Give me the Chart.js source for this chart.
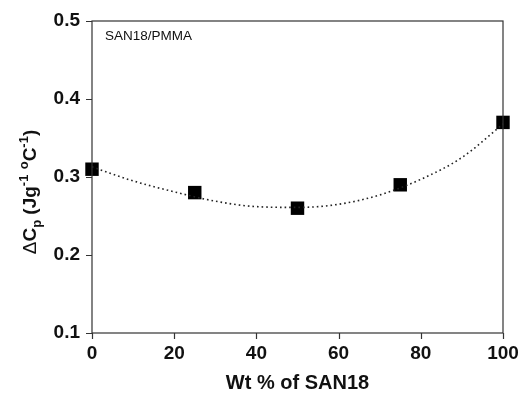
<!DOCTYPE html>
<html>
<head>
<meta charset="utf-8">
<script src="https://cdn.jsdelivr.net/npm/chart.js@4"></script>
<style>
  html, body { margin: 0; padding: 0; background: #fff; }
  #wrap { width: 520px; height: 395px; }
</style>
</head>
<body>
<div id="wrap"><canvas id="cpChart"></canvas></div>
<script>
(function() {
    'use strict';

    // measured points
    const wtPercent = [0, 25, 50, 75, 100];
    const deltaCp = [0.31, 0.28, 0.26, 0.29, 0.37];

    // dotted fit curve
    const fitX = [0, 10, 20, 30, 40, 50, 60, 70, 80, 90, 100];
    const fitY = [0.313, 0.295, 0.281, 0.269, 0.262, 0.261, 0.265, 0.277, 0.297, 0.325, 0.368];

    const xTicks = [0, 20, 40, 60, 80, 100];
    const yTicks = [0.1, 0.2, 0.3, 0.4, 0.5];

    const FONT = '"Liberation Sans", Arial, sans-serif';
    const INK = '#111';
    const TICK = 6;

    // box around the plot, outward tick marks, inner label
    const frameBox = {
        id: 'frameBox',
        afterDraw(chart) {
            const a = chart.chartArea;
            const ctx = chart.ctx;
            const xs = chart.scales.x, ys = chart.scales.y;
            ctx.save();
            ctx.strokeStyle = '#333';
            ctx.lineWidth = 1.2;
            ctx.strokeRect(a.left, a.top, a.right - a.left, a.bottom - a.top);
            ctx.beginPath();
            xTicks.forEach(function(v) {
                const px = Math.round(xs.getPixelForValue(v)) + 0.5;
                ctx.moveTo(px, a.bottom);
                ctx.lineTo(px, a.bottom + TICK);
            });
            yTicks.forEach(function(v) {
                const py = Math.round(ys.getPixelForValue(v)) + 0.5;
                ctx.moveTo(a.left, py);
                ctx.lineTo(a.left - TICK, py);
            });
            ctx.stroke();
            ctx.fillStyle = INK;
            ctx.font = '13.5px ' + FONT;
            ctx.textBaseline = 'middle';
            ctx.fillText('SAN18/PMMA', a.left + 13, a.top + 15);
            ctx.restore();
        }
    };

    // y title with sub/superscripts
    const yTitle = {
        id: 'yTitle',
        afterDraw(chart) {
            const ctx = chart.ctx;
            const big = 'bold 19px ' + FONT;
            const small = 'bold 13px ' + FONT;
            const parts = [
                { t: '\u0394', f: '19px ' + FONT, dy: 0 },
                { t: 'C', f: big, dy: 0 },
                { t: 'p', f: small, dy: 6 },
                { t: ' (Jg', f: big, dy: 0 },
                { t: '-1', f: small, dy: -7 },
                { t: ' ', f: big, dy: 0 },
                { t: 'o', f: small, dy: -7 },
                { t: 'C', f: big, dy: 0 },
                { t: '-1', f: small, dy: -7 },
                { t: ')', f: big, dy: 0 }
            ];
            ctx.save();
            let total = 0;
            parts.forEach(function(p) { ctx.font = p.f; p.w = ctx.measureText(p.t).width; total += p.w; });
            ctx.translate(31, 192);
            ctx.rotate(-Math.PI / 2);
            ctx.fillStyle = INK;
            ctx.textBaseline = 'middle';
            let x = -total / 2;
            parts.forEach(function(p) {
                ctx.font = p.f;
                ctx.fillText(p.t, x, p.dy);
                x += p.w;
            });
            ctx.restore();
        }
    };

    const ctx = document.getElementById('cpChart').getContext('2d');
    new Chart(ctx, {
        type: 'scatter',
        data: {
            datasets: [{
                label: 'fit',
                data: fitX.map(function(x, i) { return { x: x, y: fitY[i] }; }),
                showLine: true,
                borderColor: '#222',
                borderWidth: 1.6,
                borderDash: [1.6, 3],
                pointRadius: 0,
                tension: 0.4,
                cubicInterpolationMode: 'monotone',
                clip: false
            }, {
                label: 'SAN18/PMMA',
                data: wtPercent.map(function(x, i) { return { x: x, y: deltaCp[i] }; }),
                pointStyle: 'rect',
                pointRadius: 9.5,
                pointHoverRadius: 9.5,
                backgroundColor: '#000',
                borderColor: '#000',
                borderWidth: 0,
                clip: false
            }]
        },
        options: {
            responsive: true,
            maintainAspectRatio: false,
            animation: false,
            layout: { padding: { left: 0, top: 21, right: 17, bottom: 0 } },
            plugins: {
                legend: { display: false },
                tooltip: { enabled: false }
            },
            scales: {
                x: {
                    type: 'linear',
                    min: 0,
                    max: 100,
                    afterBuildTicks: function(axis) { axis.ticks = xTicks.map(function(v) { return { value: v }; }); },
                    afterFit: function(axis) {
                        axis.height = 62;
                        axis.paddingLeft = 0;
                        axis.paddingRight = 0;
                    },
                    grid: { display: false, drawTicks: false },
                    border: { display: false },
                    ticks: {
                        color: INK,
                        padding: 9,
                        font: { family: FONT, size: 19, weight: 'bold' }
                    },
                    title: {
                        display: true,
                        text: 'Wt % of SAN18',
                        color: INK,
                        padding: { top: 10, bottom: 0 },
                        font: { family: FONT, size: 20, weight: 'bold' }
                    }
                },
                y: {
                    min: 0.1,
                    max: 0.5,
                    afterBuildTicks: function(axis) { axis.ticks = yTicks.map(function(v) { return { value: v }; }); },
                    afterFit: function(axis) {
                        axis.width = 92;
                        axis.paddingTop = 0;
                        axis.paddingBottom = 0;
                    },
                    grid: { display: false, drawTicks: false },
                    border: { display: false },
                    ticks: {
                        color: INK,
                        padding: 12,
                        font: { family: FONT, size: 19, weight: 'bold' },
                        callback: function(v) { return v.toFixed(1); }
                    }
                }
            }
        },
        plugins: [frameBox, yTitle]
    });
})();
</script>
</body>
</html>
